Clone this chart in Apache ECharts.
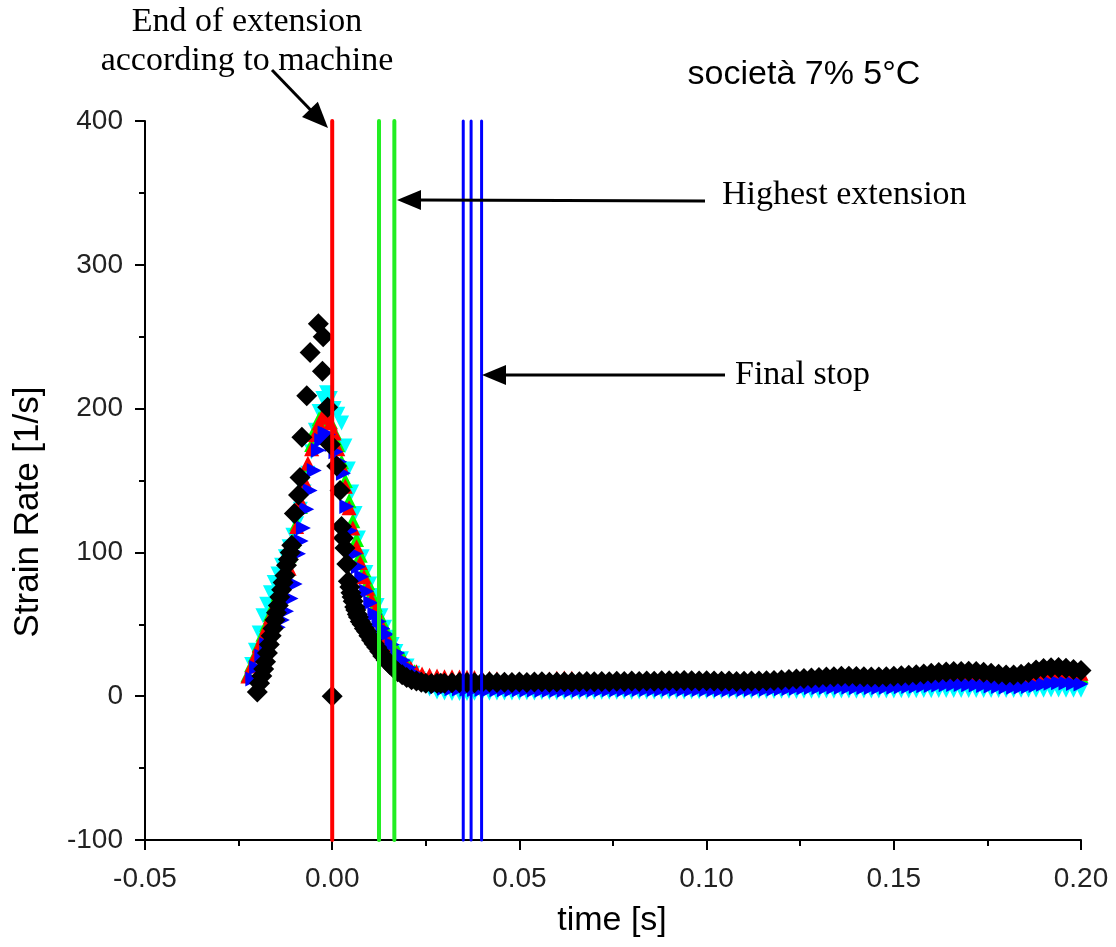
<!DOCTYPE html>
<html>
<head>
<meta charset="utf-8">
<script src="https://cdn.jsdelivr.net/npm/echarts@6/dist/echarts.min.js"></script>
<style>
html,body{margin:0;padding:0;background:#fff;}
#main{width:1116px;height:947px;}
</style>
</head>
<body>
<div id="main"></div>
<script>
// ---------------- DATA ----------------
const xTicks = [-0.05, 0.00, 0.05, 0.10, 0.15, 0.20];
const yTicks = [-100, 0, 100, 200, 300, 400];

// peak region (time [s], strain rate [1/s])
const cyanT = [-0.0215,-0.0205,-0.0195,-0.0185,-0.0175,-0.0165,-0.0155,-0.0145,-0.0135,-0.0125,-0.0115,-0.0105,-0.0095,-0.0085,-0.0075,-0.0065,-0.0055,-0.0045,-0.0035,-0.0025,-0.0015,-0.0005,0.0005,0.0015,0.0025,0.0034,0.0043,0.0052,0.0061,0.0070,0.0080,0.0090,0.0100,0.0110,0.0120,0.0130,0.0140,0.0150,0.0160,0.0170,0.0185,0.0200,0.0215,0.0230,0.0245,0.0260,0.0280];
const cyanV = [22,32,44,56,64,72,79,85,91,97,104,112,120,130,142,155,170,185,198,207,211,207,200,196,190,174,158,142,127,110,97,86,78,70,63,56,48,41,36,31,26,21,16,12,8,5,3];

const greenT = [-0.0225,-0.0215,-0.0205,-0.0195,-0.0185,-0.0175,-0.0165,-0.0155,-0.0145,-0.0135,-0.0125,-0.0115,-0.0105,-0.0095,-0.0085,-0.0075,-0.0065,-0.0055,-0.0045,-0.0035,-0.0025,-0.0015,-0.0005,0.0005,0.0015,0.0025,0.0035,0.0045,0.0055,0.0065,0.0075,0.0085,0.0095,0.0105,0.0115,0.0125,0.0135,0.0145,0.0155,0.0165,0.0175,0.0190,0.0205,0.0220,0.0240,0.0260,0.0280];
const greenV = [15,22,29,36,43,50,57,64,71,79,88,98,108,120,132,146,161,175,186,193,196,195,191,184,175,163,150,136,122,109,98,88,79,71,64,57,51,45,40,35,31,26,21,17,14,12,11];

const redT = [-0.0225,-0.0215,-0.0205,-0.0195,-0.0185,-0.0175,-0.0165,-0.0155,-0.0145,-0.0135,-0.0125,-0.0115,-0.0105,-0.0095,-0.0085,-0.0075,-0.0065,-0.0055,-0.0045,-0.0035,-0.0025,-0.0015,-0.0005,0.0005,0.0015,0.0025,0.0035,0.0045,0.0055,0.0065,0.0075,0.0085,0.0095,0.0105,0.0115,0.0125,0.0135,0.0145,0.0155,0.0165,0.0180,0.0195,0.0210,0.0225,0.0240,0.0260,0.0280];
const redV = [14,21,28,35,41,48,55,62,68,75,82,89,102,118,136,150,162,172,182,190,195,194,190,183,172,160,146,131,117,104,93,83,75,67,60,53,47,41,36,32,27,23,19.5,17,15.5,14.5,14];

const blueT = [-0.0212,-0.0202,-0.0188,-0.0175,-0.0160,-0.0144,-0.0133,-0.0122,-0.0110,-0.0099,-0.0090,-0.0083,-0.0077,-0.0068,-0.0059,-0.0048,-0.0037,-0.0028,-0.0019,-0.0010,0.0000,0.0010,0.0020,0.0030,0.0039,0.0048,0.0061,0.0070,0.0079,0.0092,0.0103,0.0114,0.0125,0.0135,0.0146,0.0160,0.0175,0.0190,0.0205,0.0220,0.0235,0.0250,0.0265,0.0280];
const blueV = [12,20,28,36,42,48,53,59,68,78,99,108,117,130,143,157,171,178,183,182,175,170,163,155,132,115,99,90,83,73,65,57,52,47,43,36,30,25,20,16,13,10,8,6.5];

const blackT = [-0.0200,-0.0194,-0.0188,-0.0183,-0.0178,-0.0173,-0.0168,-0.0163,-0.0158,-0.0153,-0.0149,-0.0144,-0.0140,-0.0135,-0.0131,-0.0126,-0.0122,-0.0117,-0.0112,-0.0108,-0.0101,-0.0090,-0.0086,-0.0081,-0.0068,-0.0059,-0.0037,-0.0024,-0.0026,-0.0012,-0.0005,0.0000,0.0012,0.0021,0.0025,0.0030,0.0034,0.0039,0.0043,0.0047,0.0050,0.0053,0.0056,0.0060,0.0063,0.0067,0.0070,0.0075,0.0080,0.0086,0.0092,0.0098,0.0105,0.0112,0.0119,0.0127,0.0135,0.0144,0.0154,0.0164,0.0175,0.0187,0.0199,0.0212,0.0225,0.0238,0.0250,0.0265,0.0280,0.0290];
const blackV = [3,9,14,19,24,30,36,42,47,53,58,63,69,74,79,84,91,95,100,105,127,140,152,180,209,239,259,250,226,201,175,0,160,143,118,110,103,92,80,76,72,69,66,62,60,57,55,52,50,47,45,42,39,36.5,34,31,28,25,22,19.5,17,15,13,11.5,10.5,9.7,9,8.8,9,9];

// tail region (shared time base)
const tailT = [0.030,0.032,0.034,0.036,0.038,0.040,0.042,0.044,0.046,0.048,
0.050,0.052,0.054,0.056,0.058,0.060,0.062,0.064,0.066,0.068,
0.070,0.072,0.074,0.076,0.078,0.080,0.082,0.084,0.086,0.088,
0.090,0.092,0.094,0.096,0.098,0.100,0.102,0.104,0.106,0.108,
0.110,0.112,0.114,0.116,0.118,0.120,0.122,0.124,0.126,0.128,
0.130,0.132,0.134,0.136,0.138,0.140,0.142,0.144,0.146,0.148,
0.150,0.152,0.154,0.156,0.158,0.160,0.162,0.164,0.166,0.168,
0.170,0.172,0.174,0.176,0.178,0.180,0.182,0.184,0.186,0.188,
0.190,0.192,0.194,0.196,0.198,0.200];

const blackTail = [9.0,9.3,9.5,9.6,9.4,9.6,9.8,9.5,9.7,9.6,
9.8,9.6,9.9,10.0,9.7,9.9,10.1,9.8,10.0,10.2,
10.0,10.3,10.1,10.4,10.2,10.5,10.3,10.6,10.4,10.7,
10.8,10.6,10.9,10.7,10.5,10.8,10.6,10.4,10.5,10.3,
10.4,10.6,10.5,10.8,11.0,11.3,11.6,12.0,12.3,12.7,
13.0,13.3,13.6,13.8,13.9,13.7,13.5,13.4,13.3,13.6,
13.9,14.2,14.5,14.9,15.4,15.9,16.4,16.8,17.1,17.2,
17.3,17.1,16.6,15.9,15.2,14.8,14.7,15.2,16.5,18.2,
19.2,19.7,19.9,19.5,18.6,17.8];

const blueTail = [5.5,5.2,5.0,4.8,4.7,4.6,4.6,4.5,4.5,4.4,
4.4,4.3,4.3,4.2,4.2,4.2,4.1,4.2,4.2,4.3,
4.3,4.4,4.4,4.5,4.5,4.6,4.6,4.6,4.7,4.7,
4.8,4.8,4.7,4.7,4.6,4.6,4.5,4.5,4.5,4.6,
4.6,4.7,4.8,4.9,5.0,5.2,5.4,5.6,5.8,6.0,
6.1,6.2,6.3,6.3,6.2,6.1,6.0,6.0,6.1,6.2,
6.3,6.5,6.7,6.9,7.2,7.5,7.8,8.0,8.1,8.1,
8.0,7.8,7.5,7.1,6.7,6.4,6.3,6.4,6.8,7.5,
8.3,9.0,9.3,9.2,8.8,8.5];

const cyanTail = [2.2,1.9,1.8,1.9,2.0,2.1,2.0,2.2,2.2,2.3,
2.3,2.4,2.3,2.5,2.5,2.4,2.6,2.6,2.5,2.7,
2.7,2.8,2.7,2.8,2.9,2.8,2.9,3.0,2.9,3.0,
3.0,3.1,3.0,3.1,3.1,3.2,3.1,3.2,3.2,3.1,
3.2,3.3,3.3,3.2,3.3,3.4,3.4,3.3,3.5,3.5,
3.5,3.6,3.5,3.6,3.6,3.5,3.6,3.7,3.6,3.7,
3.7,3.8,3.7,3.8,3.9,3.8,3.9,4.0,3.9,4.0,
4.0,3.9,4.0,3.9,3.9,4.0,4.0,4.1,4.1,4.2,
4.2,4.3,4.3,4.2,4.2,4.1];

const redTail = [13.6,13.5,13.3,13.2,13.0,12.8,12.5,12.1,11.7,11.3,
11.0,10.9,11.1,11.5,12.0,12.5,12.7,12.5,12.0,11.4,
10.8,10.4,10.2,10.1,10.2,10.3,10.4,10.4,10.5,10.6,
10.6,10.5,10.5,10.4,10.3,10.3,10.2,10.1,10.1,10.0,
10.0,10.1,10.2,10.3,10.5,10.7,10.9,11.1,11.4,11.7,
12.0,12.2,12.4,12.5,12.5,12.4,12.3,12.3,12.4,12.6,
12.8,13.1,13.4,13.8,14.2,14.6,15.0,15.3,15.5,15.6,
15.6,15.4,15.1,14.6,14.0,13.6,13.4,13.5,14.0,14.9,
16.0,16.8,17.2,17.1,16.6,16.0];

const greenTail = [10.5,10.0,9.6,9.3,9.1,9.0,8.9,8.9,8.8,8.8,
8.8,8.7,8.8,8.9,8.9,9.0,9.0,9.1,9.0,9.1,
9.1,9.2,9.2,9.3,9.3,9.4,9.3,9.4,9.4,9.5,
9.5,9.4,9.4,9.3,9.3,9.2,9.2,9.2,9.3,9.3,
9.4,9.4,9.5,9.6,9.8,10.0,10.2,10.4,10.6,10.8,
11.0,11.1,11.2,11.2,11.1,11.0,11.0,11.0,11.1,11.2,
11.4,11.6,11.9,12.2,12.6,13.0,13.4,13.7,13.9,14.0,
14.0,13.8,13.5,13.0,12.5,12.1,11.9,12.0,12.4,13.1,
14.0,14.8,15.2,15.1,14.7,14.2];

// vertical marker lines (time [s])
const redLineX = [0.0];
const greenLineX = [0.0125, 0.0166];
const blueLineX = [0.0350, 0.0371, 0.0399];
const lineSpan = [400, -100];

// ---------------- BUILD ----------------
function zip(t, v) { return t.map((x, i) => [x, v[i]]); }
function build(t, v, tt, tv) { return zip(t, v).concat(zip(tt, tv)); }

const SANS = '"Liberation Sans", Arial, sans-serif';
const SERIF = '"Liberation Serif", "Times New Roman", serif';

function scatter(name, data, color, symbol, size, rotate) {
  return {
    name, type: 'scatter', data, symbol, symbolSize: size, symbolRotate: rotate || 0,
    itemStyle: { color, opacity: 1 }, emphasis: { disabled: true }, silent: true,
    large: false
  };
}
function vline(x, color, width) {
  return {
    type: 'line', data: [[x, lineSpan[0]], [x, lineSpan[1]]], showSymbol: false, symbol: 'none',
    lineStyle: { color, width, cap: 'round' }, z: 5, silent: true, clip: false, animation: false
  };
}

const series = [
  scatter('cyan', build(cyanT, cyanV, tailT, cyanTail), '#00ffff', 'triangle', 15, 180),
  scatter('green', build(greenT, greenV, tailT, greenTail), '#00ff00', 'triangle', 15, 0),
  scatter('red', build(redT, redV, tailT, redTail), '#ff0000', 'triangle', 15, 0),
  scatter('blue', build(blueT, blueV, tailT, blueTail), '#0000ff', 'triangle', 15, -90),
  scatter('black', build(blackT, blackV, tailT, blackTail), '#000000', 'diamond', 21, 0)
];
redLineX.forEach(x => series.push(vline(x, '#ff0000', 4)));
greenLineX.forEach(x => series.push(vline(x, '#22ee22', 4)));
blueLineX.forEach(x => series.push(vline(x, '#0000ff', 3)));

const axisCommon = {
  axisLine: { show: true, onZero: false, lineStyle: { color: '#000', width: 2 } },
  axisTick: { show: true, inside: false, length: 10, lineStyle: { color: '#000', width: 2 } },
  minorTick: { show: true, splitNumber: 2, length: 6, lineStyle: { color: '#000', width: 2 } },
  splitLine: { show: false },
  minorSplitLine: { show: false }
};

const option = {
  animation: false,
  backgroundColor: '#ffffff',
  grid: { left: 145, right: 35, top: 121, bottom: 107, containLabel: false },
  xAxis: Object.assign({
    type: 'value', min: xTicks[0], max: xTicks[xTicks.length - 1], interval: 0.05,
    axisLabel: { fontSize: 28, color: '#222', fontFamily: SANS, margin: 25,
      formatter: v => v.toFixed(2) }
  }, axisCommon),
  yAxis: Object.assign({
    type: 'value', min: yTicks[0], max: yTicks[yTicks.length - 1], interval: 100,
    axisLabel: { fontSize: 28, color: '#222', fontFamily: SANS, margin: 22,
      formatter: v => String(v) }
  }, axisCommon),
  series
};

const chart = echarts.init(document.getElementById('main'), null, { renderer: 'canvas' });
chart.setOption(option);

function arrow(x1, y1, x2, y2, headLen, headW, lw) {
  const dx = x2 - x1, dy = y2 - y1, L = Math.hypot(dx, dy);
  const ux = dx / L, uy = dy / L;
  const bx = x2 - ux * headLen, by = y2 - uy * headLen;
  const px = -uy, py = ux;
  return [
    { type: 'line', shape: { x1, y1, x2: bx + ux * 2, y2: by + uy * 2 }, style: { stroke: '#000', lineWidth: lw }, z: 10 },
    { type: 'polygon', shape: { points: [[x2, y2], [bx + px * headW, by + py * headW], [bx - px * headW, by - py * headW]] }, style: { fill: '#000' }, z: 10 }
  ];
}
function txt(text, x, y, size, family, align, rot) {
  return {
    type: 'text', x, y, rotation: rot || 0, z: 10,
    style: { text, fontSize: size, fontFamily: family, fill: '#000',
      textAlign: align || 'center', textVerticalAlign: 'middle', verticalAlign: 'middle' }
  };
}

const graphics = [
  txt('End of extension', 247, 22, 34, SERIF),
  txt('according to machine', 247, 61, 34, SERIF),
  txt('Highest extension', 722, 195, 34, SERIF, 'left'),
  txt('Final stop', 735, 375, 34, SERIF, 'left'),
  txt('società 7% 5°C', 804, 75, 34, SANS),
  txt('Strain Rate [1/s]', 28, 512, 35, SANS, 'center', Math.PI / 2),
  txt('time [s]', 612, 921, 34, SANS)
].concat(
  arrow(272, 70, 328, 128, 26, 11, 3),
  arrow(705, 201, 397, 200, 24, 10, 3),
  arrow(725, 375, 482, 375, 24, 10, 3)
);
chart.setOption({ graphic: graphics });
</script>
</body>
</html>
